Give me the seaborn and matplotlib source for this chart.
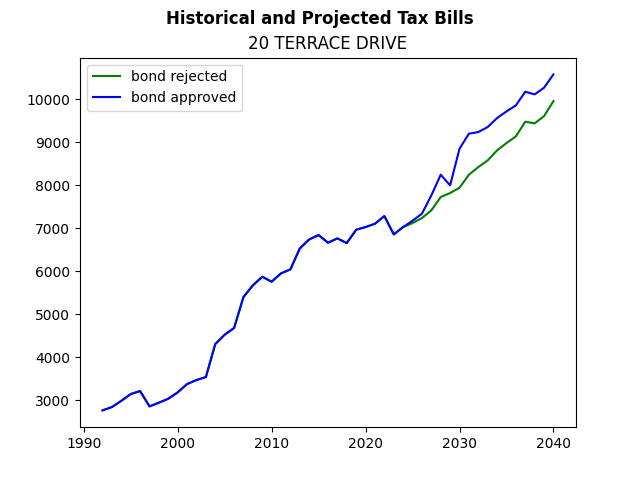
import matplotlib
matplotlib.use("Agg")
import matplotlib.pyplot as plt
import seaborn as sns
import pandas as pd

years = list(range(1992, 2041))

historical = [2767, 2845, 2990, 3147, 3217, 2860, 2946, 3039, 3186, 3380,
              3473, 3543, 4310, 4527, 4682, 5403, 5674, 5876, 5760, 5953,
              6047, 6535, 6744, 6845, 6667, 6767, 6659, 6969, 7031, 7108,
              7287, 6860]

rejected_future = [7031, 7124, 7240, 7419, 7729, 7822, 7946, 8248, 8426, 8581,
                   8814, 8984, 9140, 9481, 9442, 9612, 9960]
approved_future = [7031, 7178, 7341, 7767, 8248, 8000, 8853, 9202, 9240, 9357,
                   9566, 9721, 9860, 10179, 10116, 10272, 10581]

bond_rejected = historical + rejected_future
bond_approved = historical + approved_future

df = pd.DataFrame({
    "year": years + years,
    "tax": bond_rejected + bond_approved,
    "scenario": ["bond rejected"] * len(years) + ["bond approved"] * len(years),
})

fig, ax = plt.subplots(figsize=(6.4, 4.8), dpi=100)
sns.lineplot(data=df, x="year", y="tax", hue="scenario",
             palette={"bond rejected": "green", "bond approved": "blue"}, ax=ax)
ax.set_xlabel("")
ax.set_ylabel("")
ax.legend(loc="upper left")
ax.set_title("20 TERRACE DRIVE")
fig.suptitle("Historical and Projected Tax Bills", fontweight="bold")
fig.savefig("out.png")
